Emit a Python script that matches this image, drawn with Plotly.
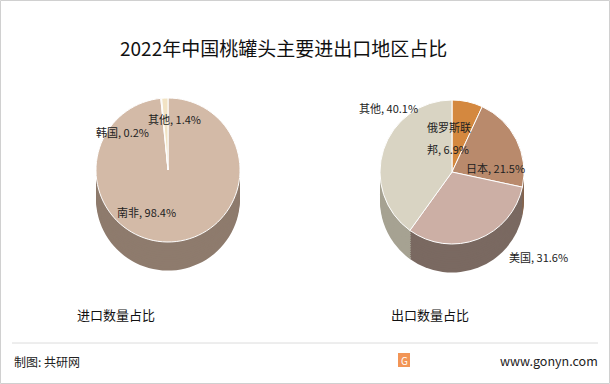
import plotly.graph_objects as go

W, H = 610, 384

title_text = "2022年中国桃罐头主要进出口地区占比"
import_labels = ["南非", "韩国", "其他"]
import_values = [98.4, 0.2, 1.4]
export_labels = ["俄罗斯联邦", "日本", "美国", "其他"]
export_values = [6.9, 21.5, 31.6, 40.1]
subtitles = ["进口数量占比", "出口数量占比"]
source_text = "制图: 共研网"
site_text = "www.gonyn.com"

import_colors = ["#D3BAA7", "#ECDDC2", "#F2E3C4"]
import_side = ["#8E7B6D", "#A3937E", "#A99A82"]
export_colors = ["#D4883F", "#B98A6C", "#CCAFA5", "#D9D4C3"]
export_side = ["#94612F", "#86654F", "#7A6961", "#A6A292"]

FONT = "Noto Sans CJK SC"


def dom(cx, cy, r):
    return dict(x=[(cx - r) / W, (cx + r) / W], y=[1 - (cy + r) / H, 1 - (cy - r) / H])


fig = go.Figure()

pies = [
    (import_labels, import_values, import_colors, import_side, 168, 170, 72),
    (export_labels, export_values, export_colors, export_side, 452, 172, 72),
]
depth_steps = 13
step = 2.2
for labels, values, cols, side, cx, cy, r in pies:
    for k in range(depth_steps, 0, -1):
        fig.add_trace(go.Pie(
            labels=labels, values=values, sort=False, direction="clockwise", rotation=0,
            marker=dict(colors=side, line=dict(color=side, width=0)),
            textinfo="none", hoverinfo="skip", showlegend=False,
            domain=dom(cx, cy + k * step, r),
        ))
    fig.add_trace(go.Pie(
        labels=labels, values=values, sort=False, direction="clockwise", rotation=0,
        marker=dict(colors=cols, line=dict(color="white", width=1)),
        textinfo="none", showlegend=False,
        domain=dom(cx, cy, r),
    ))


def ann(text, x, y, size=11, xanchor="center", color="#222222"):
    return dict(text=text, x=x / W, y=1 - y / H, xref="paper", yref="paper",
                xanchor=xanchor, yanchor="middle", showarrow=False,
                font=dict(family=FONT, size=size, color=color))


def lab(name, v):
    return f"{name}, {v:.1f}%"


annotations = [
    ann(title_text, 283, 47, size=19, color="#111111"),
    # import pie labels
    ann(lab(import_labels[2], import_values[2]), 174, 119),
    ann(lab(import_labels[1], import_values[1]), 122, 132),
    ann(lab(import_labels[0], import_values[0]), 146, 212),
    # export pie labels
    ann(lab(export_labels[3], export_values[3]), 388, 108),
    ann(export_labels[0][:4], 449, 127),
    ann(export_labels[0][4:] + f", {export_values[0]:.1f}%", 448, 149),
    ann(lab(export_labels[1], export_values[1]), 495, 168),
    ann(lab(export_labels[2], export_values[2]), 538, 257),
    # subtitles
    ann(subtitles[0], 116, 314, size=13, color="#111111"),
    ann(subtitles[1], 430, 314, size=13, color="#111111"),
    # footer
    ann(source_text, 12, 361, size=12, xanchor="left"),
    ann(site_text, 600, 360, size=12.5, xanchor="right"),
    ann("G", 404, 360, size=10, color="white"),
]

shapes = [
    dict(type="rect", xref="paper", yref="paper", x0=0.5 / W, x1=609.5 / W,
         y0=0.5 / H, y1=1 - 0.5 / H, line=dict(color="#D0D0D0", width=1)),
    dict(type="line", xref="paper", yref="paper", x0=12 / W, x1=598 / W,
         y0=1 - 343 / H, y1=1 - 343 / H, line=dict(color="#DCDCDC", width=1)),
    dict(type="rect", xref="paper", yref="paper", x0=398 / W, x1=410 / W,
         y0=1 - 367 / H, y1=1 - 353 / H, fillcolor="#F29556", line=dict(width=0)),
]

fig.update_layout(
    width=W, height=H,
    margin=dict(l=0, r=0, t=0, b=0),
    paper_bgcolor="white", plot_bgcolor="white",
    annotations=annotations, shapes=shapes,
    font=dict(family=FONT),
)

fig.write_html(
    "out.html",
    config={"displayModeBar": False},
    post_script="document.body.style.margin='0';document.body.style.overflow='hidden';",
)
